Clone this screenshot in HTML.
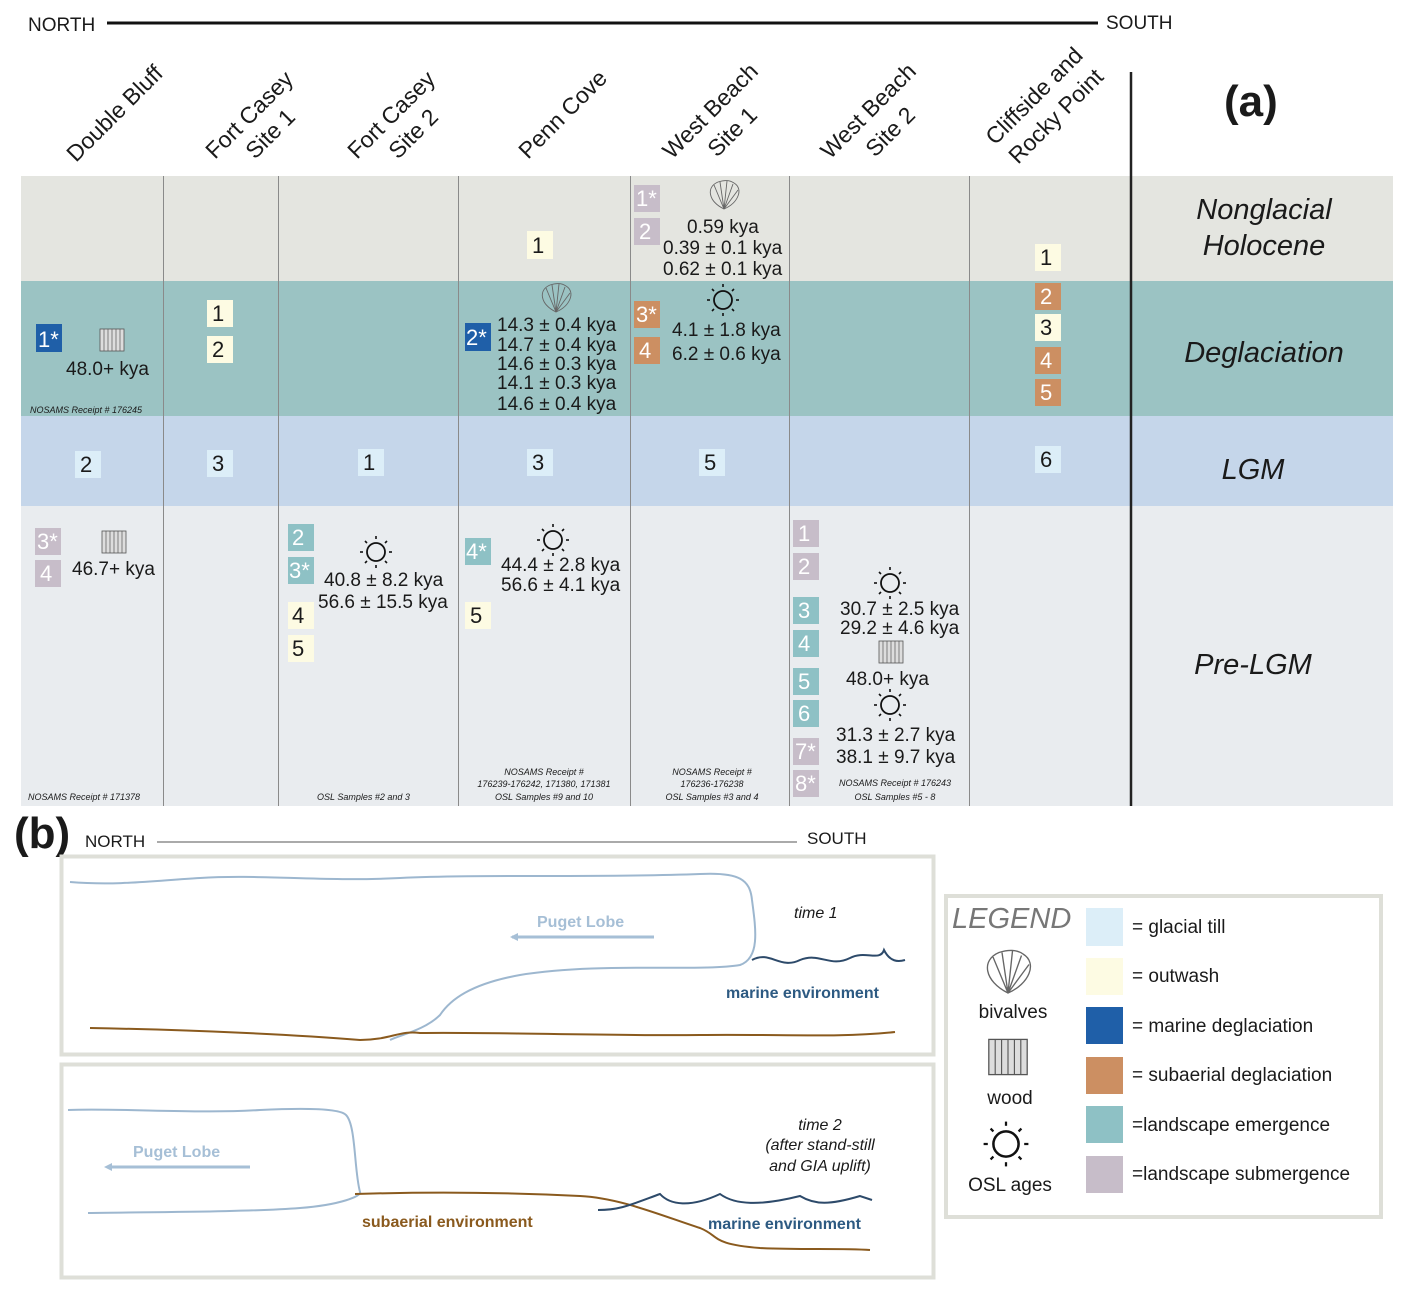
<!DOCTYPE html>
<html><head><meta charset="utf-8"><style>
html,body{margin:0;padding:0;background:#fff}
svg{display:block}
text{font-family:"Liberation Sans",Arial,sans-serif;fill:#1a1a1a}
.n{font-size:22px}
.k{font-size:19px}
.s{font-size:9px;font-style:italic}
.h{font-size:23px}
.lab{font-size:29px;font-style:italic}
.wn{fill:#fff}
</style></head><body>
<svg width="1416" height="1296" viewBox="0 0 1416 1296" xmlns="http://www.w3.org/2000/svg">
<defs>
<g id="sun"><circle r="9" fill="none" stroke="#111" stroke-width="1.8"/>
<g stroke="#111" stroke-width="1.6"><line x1="0" y1="-13" x2="0" y2="-16"/><line x1="0" y1="13" x2="0" y2="16"/><line x1="-13" y1="0" x2="-16" y2="0"/><line x1="13" y1="0" x2="16" y2="0"/><line x1="9" y1="-9" x2="11" y2="-11"/><line x1="-9" y1="-9" x2="-11" y2="-11"/><line x1="9" y1="9" x2="11" y2="11"/><line x1="-9" y1="9" x2="-11" y2="11"/></g></g>
<g id="wood"><rect x="-12" y="-11" width="24" height="22" fill="#ddd" stroke="#555" stroke-width="0.8"/><g stroke="#555" stroke-width="0.7"><line x1="-8" y1="-11" x2="-8" y2="11"/><line x1="-4" y1="-11" x2="-4" y2="11"/><line x1="0" y1="-11" x2="0" y2="11"/><line x1="4" y1="-11" x2="4" y2="11"/><line x1="8" y1="-11" x2="8" y2="11"/></g></g>
<g id="shell" fill="none" stroke="#666" stroke-width="0.9"><path d="M0,14 C-16,6 -18,-8 -6,-13 C0,-15 6,-15 10,-12 C20,-6 14,8 0,14 Z"/><path d="M0,14 L-10,-10 M0,14 L-4,-13 M0,14 L3,-14 M0,14 L9,-11 M0,14 L14,-5"/></g>
</defs>

<!-- top axis -->
<text x="28" y="31" style="font-size:19px">NORTH</text>
<line x1="107" y1="23" x2="1098" y2="23" stroke="#111" stroke-width="3"/>
<text x="1106" y="29" style="font-size:19px">SOUTH</text>

<!-- headers -->
<g class="h">
<text transform="translate(76,163) rotate(-45)" class="h">Double Bluff</text>
<text transform="translate(215,160) rotate(-45)" class="h">Fort Casey</text>
<text transform="translate(255,160) rotate(-45)" class="h">Site 1</text>
<text transform="translate(357,160) rotate(-45)" class="h">Fort Casey</text>
<text transform="translate(398,160) rotate(-45)" class="h">Site 2</text>
<text transform="translate(528,160) rotate(-45)" class="h">Penn Cove</text>
<text transform="translate(672,160) rotate(-45)" class="h">West Beach</text>
<text transform="translate(717,158) rotate(-45)" class="h">Site 1</text>
<text transform="translate(830,160) rotate(-45)" class="h">West Beach</text>
<text transform="translate(875,158) rotate(-45)" class="h">Site 2</text>
<text transform="translate(995,146) rotate(-45)" class="h">Cliffside and</text>
<text transform="translate(1018,165) rotate(-45)" class="h">Rocky Point</text>
</g>
<text x="1224" y="116" style="font-size:44px;font-weight:bold">(a)</text>

<!-- bands -->
<rect x="21" y="176" width="1372" height="105" fill="#e4e5e0"/>
<rect x="21" y="281" width="1372" height="135" fill="#9bc3c3"/>
<rect x="21" y="416" width="1372" height="90" fill="#c5d6ea"/>
<rect x="21" y="506" width="1372" height="300" fill="#e9ecef"/>
<g stroke="#8a8a8a" stroke-width="1">
<line x1="163.5" y1="176" x2="163.5" y2="806"/><line x1="278.5" y1="176" x2="278.5" y2="806"/>
<line x1="458.5" y1="176" x2="458.5" y2="806"/><line x1="630.5" y1="176" x2="630.5" y2="806"/>
<line x1="789.5" y1="176" x2="789.5" y2="806"/><line x1="969.5" y1="176" x2="969.5" y2="806"/>
</g>
<line x1="1131" y1="72" x2="1131" y2="806" stroke="#222" stroke-width="2.5"/>

<!-- row labels -->
<text x="1264" y="219" class="lab" text-anchor="middle">Nonglacial</text>
<text x="1264" y="255" class="lab" text-anchor="middle">Holocene</text>
<text x="1264" y="362" class="lab" text-anchor="middle">Deglaciation</text>
<text x="1253" y="479" class="lab" text-anchor="middle">LGM</text>
<text x="1253" y="674" class="lab" text-anchor="middle">Pre-LGM</text>

<!-- boxes: helper approach: rect + text -->
<!-- colors -->
<!-- outwash #fdfbe3, till #dceef8, marine #1f5fa8, subaerial #cc8f62, emergence #8ec1c5, submergence #c7bdc9 -->

<!-- Double Bluff -->
<rect x="36" y="324" width="26" height="28" fill="#1f5fa8"/><text x="38" y="347" class="n wn">1*</text>
<use href="#wood" x="112" y="340"/>
<text x="66" y="375" class="k">48.0+ kya</text>
<text x="30" y="413" class="s">NOSAMS Receipt # 176245</text>
<rect x="75" y="451" width="26" height="27" fill="#dceef8"/><text x="80" y="472" class="n">2</text>
<rect x="35" y="528" width="26" height="27" fill="#c7bdc9"/><text x="37" y="549" class="n wn">3*</text>
<rect x="35" y="560" width="26" height="27" fill="#c7bdc9"/><text x="40" y="581" class="n wn">4</text>
<use href="#wood" x="114" y="542"/>
<text x="72" y="575" class="k">46.7+ kya</text>
<text x="28" y="800" class="s">NOSAMS Receipt # 171378</text>

<!-- Fort Casey 1 -->
<rect x="207" y="300" width="26" height="27" fill="#fdfbe3"/><text x="212" y="321" class="n">1</text>
<rect x="207" y="336" width="26" height="27" fill="#fdfbe3"/><text x="212" y="357" class="n">2</text>
<rect x="207" y="450" width="26" height="27" fill="#dceef8"/><text x="212" y="471" class="n">3</text>

<!-- Fort Casey 2 -->
<rect x="358" y="449" width="26" height="27" fill="#dceef8"/><text x="363" y="470" class="n">1</text>
<rect x="288" y="524" width="26" height="27" fill="#8ec1c5"/><text x="292" y="545" class="n wn">2</text>
<rect x="288" y="557" width="26" height="27" fill="#8ec1c5"/><text x="289" y="578" class="n wn">3*</text>
<rect x="288" y="602" width="26" height="27" fill="#fdfbe3"/><text x="292" y="623" class="n">4</text>
<rect x="288" y="635" width="26" height="27" fill="#fdfbe3"/><text x="292" y="656" class="n">5</text>
<use href="#sun" x="376" y="552"/>
<text x="324" y="586" class="k">40.8 ± 8.2 kya</text>
<text x="318" y="608" class="k">56.6 ± 15.5 kya</text>
<text x="317" y="800" class="s">OSL Samples #2 and 3</text>

<!-- Penn Cove -->
<rect x="527" y="231" width="26" height="28" fill="#fdfbe3"/><text x="532" y="253" class="n">1</text>
<use href="#shell" x="556" y="298"/>
<rect x="465" y="323" width="26" height="28" fill="#1f5fa8"/><text x="466" y="345" class="n wn">2*</text>
<text x="497" y="331" class="k">14.3 ± 0.4 kya</text>
<text x="497" y="351" class="k">14.7 ± 0.4 kya</text>
<text x="497" y="370" class="k">14.6 ± 0.3 kya</text>
<text x="497" y="389" class="k">14.1 ± 0.3 kya</text>
<text x="497" y="410" class="k">14.6 ± 0.4 kya</text>
<rect x="527" y="449" width="26" height="27" fill="#dceef8"/><text x="532" y="470" class="n">3</text>
<rect x="465" y="538" width="26" height="27" fill="#8ec1c5"/><text x="466" y="559" class="n wn">4*</text>
<rect x="465" y="602" width="26" height="27" fill="#fdfbe3"/><text x="470" y="623" class="n">5</text>
<use href="#sun" x="553" y="540"/>
<text x="501" y="571" class="k">44.4 ± 2.8 kya</text>
<text x="501" y="591" class="k">56.6 ± 4.1 kya</text>
<text x="544" y="775" class="s" text-anchor="middle">NOSAMS Receipt #</text>
<text x="544" y="787" class="s" text-anchor="middle">176239-176242, 171380, 171381</text>
<text x="544" y="800" class="s" text-anchor="middle">OSL Samples #9 and 10</text>

<!-- West Beach 1 -->
<rect x="634" y="185" width="26" height="27" fill="#c7bdc9"/><text x="636" y="206" class="n wn">1*</text>
<rect x="634" y="218" width="26" height="27" fill="#c7bdc9"/><text x="639" y="239" class="n wn">2</text>
<use href="#shell" x="724" y="195"/>
<text x="687" y="233" class="k">0.59 kya</text>
<text x="663" y="254" class="k">0.39 ± 0.1 kya</text>
<text x="663" y="275" class="k">0.62 ± 0.1 kya</text>
<rect x="634" y="301" width="26" height="27" fill="#cc8f62"/><text x="636" y="322" class="n wn">3*</text>
<rect x="634" y="337" width="26" height="27" fill="#cc8f62"/><text x="639" y="358" class="n wn">4</text>
<use href="#sun" x="723" y="300"/>
<text x="672" y="336" class="k">4.1 ± 1.8 kya</text>
<text x="672" y="360" class="k">6.2 ± 0.6 kya</text>
<rect x="699" y="449" width="26" height="27" fill="#dceef8"/><text x="704" y="470" class="n">5</text>
<text x="712" y="775" class="s" text-anchor="middle">NOSAMS Receipt #</text>
<text x="712" y="787" class="s" text-anchor="middle">176236-176238</text>
<text x="712" y="800" class="s" text-anchor="middle">OSL Samples #3 and 4</text>

<!-- West Beach 2 -->
<rect x="793" y="520" width="26" height="27" fill="#c7bdc9"/><text x="798" y="541" class="n wn">1</text>
<rect x="793" y="553" width="26" height="27" fill="#c7bdc9"/><text x="798" y="574" class="n wn">2</text>
<rect x="793" y="597" width="26" height="27" fill="#8ec1c5"/><text x="798" y="618" class="n wn">3</text>
<rect x="793" y="630" width="26" height="27" fill="#8ec1c5"/><text x="798" y="651" class="n wn">4</text>
<rect x="793" y="668" width="26" height="27" fill="#8ec1c5"/><text x="798" y="689" class="n wn">5</text>
<rect x="793" y="700" width="26" height="27" fill="#8ec1c5"/><text x="798" y="721" class="n wn">6</text>
<rect x="793" y="738" width="26" height="27" fill="#c7bdc9"/><text x="795" y="759" class="n wn">7*</text>
<rect x="793" y="770" width="26" height="27" fill="#c7bdc9"/><text x="795" y="791" class="n wn">8*</text>
<use href="#sun" x="890" y="583"/>
<text x="840" y="615" class="k">30.7 ± 2.5 kya</text>
<text x="840" y="634" class="k">29.2 ± 4.6 kya</text>
<use href="#wood" x="891" y="652"/>
<text x="846" y="685" class="k">48.0+ kya</text>
<use href="#sun" x="890" y="705"/>
<text x="836" y="741" class="k">31.3 ± 2.7 kya</text>
<text x="836" y="763" class="k">38.1 ± 9.7 kya</text>
<text x="895" y="786" class="s" text-anchor="middle">NOSAMS Receipt # 176243</text>
<text x="895" y="800" class="s" text-anchor="middle">OSL Samples #5 - 8</text>

<!-- Cliffside -->
<rect x="1035" y="244" width="26" height="27" fill="#fdfbe3"/><text x="1040" y="265" class="n">1</text>
<rect x="1035" y="283" width="26" height="27" fill="#cc8f62"/><text x="1040" y="304" class="n wn">2</text>
<rect x="1035" y="314" width="26" height="27" fill="#fdfbe3"/><text x="1040" y="335" class="n">3</text>
<rect x="1035" y="347" width="26" height="27" fill="#cc8f62"/><text x="1040" y="368" class="n wn">4</text>
<rect x="1035" y="379" width="26" height="27" fill="#cc8f62"/><text x="1040" y="400" class="n wn">5</text>
<rect x="1035" y="446" width="26" height="27" fill="#dceef8"/><text x="1040" y="467" class="n">6</text>

<!-- (b) -->
<text x="14" y="848" style="font-size:44px;font-weight:bold">(b)</text>
<text x="85" y="847" style="font-size:17px">NORTH</text>
<line x1="157" y1="842" x2="797" y2="842" stroke="#555" stroke-width="1"/>
<text x="807" y="844" style="font-size:17px">SOUTH</text>

<rect x="61.5" y="856.5" width="872" height="198" fill="#fff" stroke="#dedfd8" stroke-width="4"/>
<rect x="61.5" y="1064.5" width="872" height="213" fill="#fff" stroke="#dedfd8" stroke-width="4"/>

<!-- time 1 -->
<path d="M70,882 C120,886 160,880 200,878 C260,874 320,882 400,878 C480,874 600,878 700,874 C740,872 750,880 752,900 C756,930 760,958 740,965 C700,972 600,962 520,975 C470,984 450,1000 440,1015 C425,1030 400,1035 390,1040" fill="none" stroke="#9db7cf" stroke-width="2"/>
<path d="M90,1028 C200,1030 300,1035 360,1040 C390,1040 400,1030 420,1033 C500,1032 600,1036 700,1035 C780,1034 840,1038 895,1032" fill="none" stroke="#8a5a1e" stroke-width="2"/>
<path d="M752,960 C770,950 780,970 800,960 C820,952 830,968 850,958 C865,950 880,962 884,950 C890,962 898,962 905,960" fill="none" stroke="#2d4a6a" stroke-width="2"/>
<text x="794" y="918" style="font-size:16px;font-style:italic">time 1</text>
<text x="726" y="998" style="font-size:16px;font-weight:bold;fill:#2d5a82">marine environment</text>
<text x="537" y="927" style="font-size:16px;font-weight:bold;fill:#a6bfd6">Puget Lobe</text>
<line x1="512" y1="937" x2="654" y2="937" stroke="#a6bfd6" stroke-width="3"/>
<path d="M510,937 l8,-4 l0,8 z" fill="#a6bfd6"/>

<!-- time 2 -->
<path d="M68,1110 C120,1108 200,1114 260,1110 C300,1108 340,1108 346,1115 C356,1125 354,1170 360,1192 C362,1196 340,1205 300,1208 C250,1212 150,1212 88,1213" fill="none" stroke="#9db7cf" stroke-width="2"/>
<path d="M355,1194 C420,1192 500,1192 580,1196 C620,1198 660,1215 700,1228 C720,1236 710,1244 760,1248 C800,1250 840,1248 870,1250" fill="none" stroke="#8a5a1e" stroke-width="2"/>
<path d="M598,1210 C620,1210 630,1205 660,1194 C670,1205 690,1208 720,1194 C735,1205 760,1206 800,1196 C815,1205 830,1205 860,1196 L872,1200" fill="none" stroke="#2d4a6a" stroke-width="2"/>
<text x="820" y="1130" text-anchor="middle" style="font-size:16px;font-style:italic">time 2</text>
<text x="820" y="1150" text-anchor="middle" style="font-size:16px;font-style:italic">(after stand-still</text>
<text x="820" y="1171" text-anchor="middle" style="font-size:16px;font-style:italic">and GIA uplift)</text>
<text x="362" y="1227" style="font-size:16px;font-weight:bold;fill:#8a5a1e">subaerial environment</text>
<text x="708" y="1229" style="font-size:16px;font-weight:bold;fill:#2d5a82">marine environment</text>
<text x="133" y="1157" style="font-size:16px;font-weight:bold;fill:#a6bfd6">Puget Lobe</text>
<line x1="108" y1="1167" x2="250" y2="1167" stroke="#a6bfd6" stroke-width="3"/>
<path d="M104,1167 l8,-4 l0,8 z" fill="#a6bfd6"/>

<!-- legend -->
<rect x="946" y="896" width="435" height="321" fill="#fff" stroke="#dedfd8" stroke-width="4"/>
<text x="952" y="928" style="font-size:29px;font-style:italic;fill:#777">LEGEND</text>
<use href="#shell" x="1008" y="972" transform="translate(-504,-486) scale(1.5)"/>
<text x="1013" y="1018" text-anchor="middle" style="font-size:19px">bivalves</text>
<g transform="translate(1008,1057) scale(1.6)"><use href="#wood"/></g>
<text x="1010" y="1104" text-anchor="middle" style="font-size:19px">wood</text>
<g transform="translate(1006,1144) scale(1.4)"><use href="#sun"/></g>
<text x="1010" y="1191" text-anchor="middle" style="font-size:19px">OSL ages</text>
<rect x="1086" y="908" width="37" height="38" fill="#dceef8"/>
<rect x="1086" y="958" width="37" height="37" fill="#fdfbe3"/>
<rect x="1086" y="1007" width="37" height="37" fill="#1f5fa8"/>
<rect x="1086" y="1057" width="37" height="37" fill="#cc8f62"/>
<rect x="1086" y="1106" width="37" height="37" fill="#8ec1c5"/>
<rect x="1086" y="1156" width="37" height="37" fill="#c7bdc9"/>
<g style="font-size:19px">
<text x="1132" y="933" style="font-size:19px">= glacial till</text>
<text x="1132" y="982" style="font-size:19px">= outwash</text>
<text x="1132" y="1032" style="font-size:19px">= marine deglaciation</text>
<text x="1132" y="1081" style="font-size:19px">= subaerial deglaciation</text>
<text x="1132" y="1131" style="font-size:19px">=landscape emergence</text>
<text x="1132" y="1180" style="font-size:19px">=landscape submergence</text>
</g>
</svg>
</body></html>
